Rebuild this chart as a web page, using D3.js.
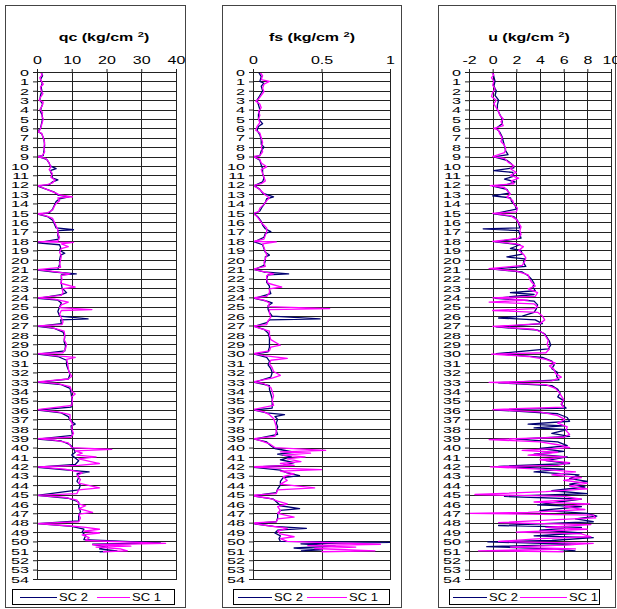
<!DOCTYPE html>
<html>
<head>
<meta charset="utf-8">
<script src="https://cdn.jsdelivr.net/npm/d3@7"></script>
<style>
  body { margin: 0; background: #fff; }
  svg { display: block; font-family: Arial, "Liberation Sans", sans-serif; }
</style>
</head>
<body>
<svg width="617" height="609"></svg>
<script>
// depth (m) on the vertical axis, shared by the three panels
const depthTicks = d3.range(0, 55);
const qcTicks = [0, 10, 20, 30, 40];
const fsTicks = [0, 0.5, 1];
const uTicks = [-2, 0, 2, 4, 6, 8, 10];
const seriesNames = ["SC 2", "SC 1"];

// [depth, value]
const qcSC2 = [[0,1.2],[0.4,1.6],[0.8,1.0],[1.2,1.5],[1.6,1.2],[2,1.4],[2.5,1.0],[3,0.8],[3.4,1.6],[3.8,1.2],[4.2,1.0],[4.6,1.5],[5,1.6],[5.5,1.3],[6.0,1.0],[6.3,0.2],[6.6,1.4],[7.2,2.0],[7.8,2.2],[8.4,2.0],[8.9,1.8],[9.0,0.2],[9.3,2.8],[9.7,3.5],[10.0,3.8],[10.3,5.5],[10.5,3.8],[10.9,4.2],[11.3,4.5],[11.5,6.0],[11.7,4.5],[12.0,3.5],[12.15,0.2],[12.4,2.0],[12.8,5.0],[13.1,6.0],[13.3,9.2],[13.5,6.5],[13.8,5.5],[14.2,5.0],[14.6,4.5],[15.0,3.5],[15.15,0.2],[15.4,3.0],[15.8,4.5],[16.2,5.0],[16.6,5.5],[16.8,10.5],[16.9,6.0],[17.4,6.0],[17.8,6.2],[18.2,0.1],[18.4,6.5],[18.7,6.8],[19.0,6.5],[19.3,8.0],[19.5,6.8],[20,6.5],[20.5,6.5],[21.0,6.0],[21.1,0.2],[21.3,5.0],[21.5,11.3],[21.6,7.0],[22,7.0],[22.5,7.0],[23,7.2],[23.5,8.5],[23.7,7.0],[24.1,0.2],[24.3,6.0],[24.6,7.0],[25,6.5],[25.5,6.0],[26,6.5],[26.3,14.7],[26.4,6.8],[26.8,7.0],[27.1,0.2],[27.3,5.0],[27.7,7.5],[28.2,8.0],[28.7,7.8],[29.2,8.2],[29.7,8.0],[30.05,0.2],[30.3,6.0],[30.7,8.5],[31.2,8.5],[31.7,9.0],[32.2,9.5],[32.7,9.0],[33.05,0.2],[33.3,7.0],[33.7,9.5],[34.2,9.8],[34.7,10.0],[35.2,10.0],[35.7,9.8],[36.0,0.2],[36.3,7.0],[36.7,9.0],[37.1,9.5],[37.5,11.0],[37.7,9.8],[38.2,10.0],[38.7,10.2],[39.1,0.2],[39.3,7.0],[39.7,9.5],[40.1,10.5],[40.5,11.0],[40.8,10.0],[41.1,11.0],[41.4,12.0],[41.8,11.0],[42.1,0.1],[42.4,9.0],[42.6,15.0],[42.8,11.5],[43.2,12.0],[43.6,11.5],[44,12.5],[44.5,12.0],[45.1,0.0],[45.4,9.0],[45.8,12.0],[46.3,12.0],[46.8,12.5],[47.3,12.0],[47.8,12.0],[48.1,0.1],[48.4,10.0],[48.7,13.5],[49.0,13.0],[49.4,14.0],[49.8,13.5],[50.15,35.5],[50.3,16.0],[50.6,20.0],[50.8,18.0],[51.0,23.0],[51.1,18.0]];
const qcSC1 = [[0,1.0],[0.3,1.5],[0.6,0.8],[1,1.3],[1.3,1.8],[1.6,1.0],[2,1.2],[2.3,1.7],[2.7,1.0],[3,0.6],[3.2,1.8],[3.6,1.5],[4,0.8],[4.3,1.6],[4.7,1.4],[5,1.8],[5.4,1.5],[5.8,1.2],[6.2,0.8],[6.35,0.1],[6.5,1.3],[7,1.8],[7.5,2.2],[8,2.0],[8.5,2.2],[8.9,1.5],[9.05,0.1],[9.2,2.5],[9.5,3.2],[9.8,3.6],[10.1,4.0],[10.4,3.5],[10.8,4.4],[11.2,4.0],[11.5,5.2],[11.8,4.5],[12.0,3.0],[12.1,0.1],[12.3,1.5],[12.6,3.5],[12.9,5.5],[13.1,6.5],[13.3,10.2],[13.4,6.0],[13.7,6.5],[14.0,5.5],[14.3,5.0],[14.7,4.5],[15.0,3.0],[15.1,0.1],[15.3,2.5],[15.6,4.5],[16,5.0],[16.4,5.5],[16.8,6.0],[17.2,6.0],[17.6,6.5],[18.0,6.0],[18.1,0.1],[18.15,10.5],[18.3,7.0],[18.6,9.0],[18.8,7.0],[19.2,6.5],[19.6,7.0],[20,6.8],[20.4,6.5],[20.8,6.8],[21.05,0.1],[21.2,4.0],[21.5,9.5],[21.7,7.0],[22.1,7.2],[22.5,6.8],[22.9,11.0],[23.1,7.2],[23.5,7.5],[23.8,7.0],[24.05,0.1],[24.2,5.0],[24.5,9.0],[24.8,7.0],[25.1,6.5],[25.3,15.8],[25.4,7.0],[25.8,6.5],[26.2,7.0],[26.6,7.5],[26.9,7.2],[27.05,0.1],[27.2,4.0],[27.6,7.8],[28,8.0],[28.5,7.8],[29,8.5],[29.5,8.2],[29.9,7.5],[30.0,0.1],[30.2,5.0],[30.4,11.0],[30.6,8.5],[31,8.8],[31.5,9.0],[32,9.2],[32.4,10.0],[32.7,9.0],[33.0,0.1],[33.2,6.0],[33.5,9.5],[34,10.0],[34.3,11.0],[34.6,10.0],[35,10.2],[35.5,10.0],[35.95,0.1],[36.2,6.0],[36.5,9.5],[37,9.5],[37.5,10.2],[38,10.0],[38.5,10.5],[38.9,9.8],[39.05,0.1],[39.2,5.0],[39.5,9.0],[40,10.0],[40.2,21.5],[40.35,11.0],[40.6,13.0],[40.8,11.5],[41.0,17.0],[41.2,12.0],[41.5,15.5],[41.7,18.0],[41.9,12.0],[42.05,0.1],[42.3,8.0],[42.5,11.0],[42.7,13.0],[43,11.5],[43.4,12.5],[43.8,12.0],[44.3,18.0],[44.5,12.0],[44.9,11.5],[45.1,0.0],[45.3,8.0],[45.6,11.5],[46,12.0],[46.2,14.0],[46.5,12.0],[46.9,16.0],[47.1,12.0],[47.5,12.5],[47.9,12.0],[48.1,0.1],[48.3,8.0],[48.5,14.0],[48.7,18.0],[48.9,13.5],[49.1,18.0],[49.3,13.0],[49.6,15.0],[49.9,14.0],[50.2,37.0],[50.35,16.0],[50.5,27.0],[50.6,17.0],[50.8,24.0],[51.0,26.0],[51.1,19.0]];

const fsSC2 = [[0,0.04],[0.5,0.06],[1.0,0.05],[1.2,0.08],[1.5,0.06],[2,0.07],[2.5,0.05],[3.0,0.03],[3.5,0.04],[4,0.05],[4.5,0.04],[5,0.04],[5.5,0.07],[5.8,0.04],[6.2,0.03],[6.7,0.05],[7.2,0.06],[7.7,0.06],[8.0,0.08],[8.4,0.06],[8.9,0.05],[9.05,0.01],[9.4,0.05],[9.9,0.06],[10.3,0.07],[10.8,0.07],[11.3,0.08],[11.7,0.07],[12.1,0.01],[12.5,0.05],[12.9,0.07],[13.3,0.15],[13.5,0.1],[13.9,0.09],[14.3,0.07],[14.8,0.05],[15.1,0.01],[15.5,0.04],[15.9,0.06],[16.3,0.07],[16.7,0.09],[17.0,0.13],[17.2,0.09],[17.6,0.08],[18.1,0.01],[18.4,0.07],[18.8,0.08],[19.2,0.09],[19.5,0.12],[19.7,0.09],[20.1,0.09],[20.6,0.08],[21.05,0.01],[21.3,0.08],[21.5,0.26],[21.6,0.11],[22,0.1],[22.4,0.1],[22.8,0.12],[23.2,0.12],[23.6,0.13],[24.1,0.01],[24.4,0.1],[24.6,0.14],[24.9,0.11],[25.3,0.11],[25.6,0.12],[26,0.14],[26.3,0.49],[26.4,0.12],[26.7,0.1],[27.1,0.01],[27.4,0.08],[27.8,0.11],[28.3,0.12],[28.8,0.12],[29.3,0.12],[29.8,0.11],[30.05,0.01],[30.4,0.1],[30.8,0.12],[31.2,0.11],[31.6,0.13],[32,0.14],[32.5,0.13],[33.05,0.01],[33.4,0.12],[33.8,0.12],[34.3,0.13],[34.8,0.14],[35.3,0.14],[35.8,0.14],[36.0,0.01],[36.3,0.1],[36.5,0.23],[36.7,0.16],[37.0,0.18],[37.4,0.17],[37.8,0.18],[38.2,0.17],[38.6,0.18],[39.1,0.01],[39.4,0.1],[39.8,0.13],[40.1,0.16],[40.5,0.3],[40.7,0.18],[41.0,0.28],[41.3,0.2],[41.6,0.3],[41.9,0.22],[42.1,0.0],[42.4,0.2],[42.7,0.25],[43.0,0.34],[43.2,0.22],[43.6,0.2],[44.0,0.2],[44.4,0.18],[44.8,0.17],[45.15,0.0],[45.5,0.15],[45.9,0.18],[46.2,0.2],[46.5,0.34],[46.7,0.2],[47.1,0.18],[47.5,0.18],[47.9,0.17],[48.1,0.0],[48.4,0.15],[48.6,0.39],[48.8,0.18],[49.1,0.16],[49.4,0.2],[49.7,0.19],[50.0,0.2],[50.1,1.0],[50.25,0.35],[50.5,0.6],[50.7,0.3],[50.9,0.5],[51.0,0.35]];
const fsSC1 = [[0,0.05],[0.4,0.07],[0.8,0.06],[1.0,0.12],[1.3,0.08],[1.7,0.07],[2.1,0.08],[2.5,0.06],[2.9,0.04],[3.1,0.02],[3.4,0.05],[3.8,0.06],[4.2,0.04],[4.6,0.05],[5.0,0.04],[5.4,0.05],[5.8,0.03],[6.2,0.02],[6.5,0.05],[7,0.06],[7.5,0.07],[8,0.06],[8.5,0.07],[8.9,0.05],[9.0,0.0],[9.3,0.05],[9.7,0.06],[10.1,0.1],[10.4,0.06],[10.8,0.07],[11.2,0.08],[11.6,0.09],[11.9,0.06],[12.1,0.0],[12.4,0.04],[12.8,0.07],[13.1,0.09],[13.4,0.12],[13.7,0.1],[14.1,0.08],[14.5,0.05],[14.9,0.04],[15.05,0.0],[15.4,0.03],[15.8,0.05],[16.2,0.07],[16.6,0.1],[17,0.1],[17.4,0.09],[17.8,0.08],[18.05,0.0],[18.1,0.17],[18.3,0.07],[18.7,0.08],[19.1,0.09],[19.5,0.1],[19.9,0.09],[20.3,0.08],[20.7,0.09],[21.0,0.0],[21.2,0.06],[21.5,0.15],[21.7,0.1],[22.1,0.1],[22.5,0.11],[22.9,0.21],[23.1,0.12],[23.5,0.12],[23.9,0.1],[24.05,0.0],[24.3,0.08],[24.6,0.12],[25,0.11],[25.2,0.56],[25.3,0.12],[25.7,0.12],[26.1,0.13],[26.5,0.11],[26.9,0.1],[27.05,0.0],[27.3,0.05],[27.6,0.12],[28,0.12],[28.5,0.13],[29.1,0.2],[29.3,0.13],[29.7,0.12],[30.0,0.0],[30.2,0.08],[30.5,0.25],[30.7,0.13],[31.1,0.12],[31.5,0.14],[31.9,0.15],[32.3,0.2],[32.6,0.14],[33.0,0.0],[33.2,0.08],[33.6,0.13],[34,0.14],[34.5,0.15],[35,0.14],[35.5,0.15],[35.95,0.0],[36.2,0.08],[36.5,0.12],[36.9,0.15],[37.3,0.16],[37.8,0.17],[38.3,0.17],[38.8,0.16],[39.05,0.0],[39.3,0.06],[39.6,0.12],[40,0.16],[40.3,0.53],[40.45,0.2],[40.6,0.42],[40.8,0.22],[41.0,0.38],[41.2,0.25],[41.5,0.35],[41.7,0.2],[41.9,0.3],[42.05,-0.02],[42.2,0.18],[42.35,0.5],[42.5,0.2],[42.8,0.3],[43.1,0.22],[43.5,0.25],[43.9,0.2],[44.3,0.45],[44.5,0.18],[44.9,0.17],[45.1,-0.02],[45.4,0.12],[45.7,0.18],[46,0.25],[46.3,0.18],[46.7,0.2],[47.0,0.18],[47.4,0.3],[47.6,0.18],[47.9,0.17],[48.05,-0.02],[48.3,0.1],[48.6,0.25],[48.9,0.18],[49.2,0.2],[49.5,0.3],[49.7,0.2],[50.0,0.25],[50.3,0.93],[50.45,0.4],[50.6,0.75],[50.75,0.45],[51.0,0.89],[51.1,0.5]];

const uSC2 = [[0,0.0],[0.5,0.1],[1,0.2],[1.5,0.1],[2,0.3],[2.5,0.2],[3,0.5],[3.5,0.4],[4,0.4],[4.5,0.6],[5,0.8],[5.5,0.8],[6.0,0.3],[6.4,0.6],[6.9,0.8],[7.4,0.9],[7.9,1.0],[8.4,1.1],[8.8,1.3],[9.05,0.1],[9.4,1.2],[9.8,1.6],[10.2,1.8],[10.5,0.1],[10.7,1.7],[11.1,1.8],[11.4,1.0],[11.7,1.9],[12.0,1.2],[12.15,0.0],[12.5,1.2],[12.9,1.4],[13.2,0.0],[13.4,1.5],[13.8,1.6],[14.2,1.9],[14.6,2.0],[15.1,0.1],[15.4,1.8],[15.8,2.1],[16.2,2.2],[16.6,2.3],[16.7,-0.8],[16.9,2.2],[17.3,2.3],[17.7,2.4],[18.1,0.2],[18.4,2.3],[18.8,1.5],[19.0,2.4],[19.4,2.5],[19.7,1.2],[19.9,2.7],[20.3,2.6],[20.7,2.8],[21.0,0.0],[21.3,2.5],[21.7,3.0],[22.1,3.3],[22.5,3.5],[22.9,3.4],[23.3,3.6],[23.5,1.5],[23.7,3.5],[24.1,0.2],[24.4,3.5],[24.8,3.8],[25.2,3.7],[25.6,3.5],[26.0,2.5],[26.2,0.5],[26.4,3.6],[26.8,4.2],[27.15,0.3],[27.5,3.8],[27.9,4.4],[28.3,4.6],[28.7,4.8],[29.1,4.9],[29.5,4.7],[30.0,0.3],[30.4,4.2],[30.8,5.0],[31.2,5.2],[31.6,5.0],[32.0,5.5],[32.4,5.4],[32.8,5.6],[33.1,0.5],[33.4,5.0],[33.8,5.5],[34.2,5.7],[34.6,5.5],[35.0,6.0],[35.4,5.8],[35.8,6.2],[36.0,0.3],[36.4,5.5],[36.8,6.3],[37.2,6.5],[37.5,3.0],[37.7,6.0],[37.9,3.5],[38.1,6.3],[38.5,5.0],[38.8,6.5],[39.1,2.0],[39.4,5.5],[39.8,6.3],[40.1,4.0],[40.4,6.0],[40.7,3.5],[41.0,6.3],[41.4,4.5],[41.7,6.5],[42.0,0.5],[42.3,6.0],[42.6,3.5],[42.9,7.3],[43.3,6.5],[43.6,8.0],[43.9,6.5],[44.2,7.8],[44.6,5.0],[44.9,8.0],[45.2,1.0],[45.5,7.5],[45.8,5.5],[46.1,3.8],[46.3,7.5],[46.7,4.0],[47.0,8.0],[47.3,8.8],[47.6,7.0],[47.9,8.5],[48.3,0.5],[48.5,7.5],[48.8,4.0],[49.1,7.5],[49.4,3.5],[49.6,8.5],[49.9,5.0],[50.05,-0.4],[50.3,7.0],[50.55,-0.5],[50.8,5.0],[51.0,7.0]];
const uSC1 = [[0,-0.1],[0.3,0.1],[0.6,-0.1],[1,0.1],[1.4,0.0],[1.8,0.2],[2.2,0.0],[2.6,-0.1],[3,0.3],[3.4,0.1],[3.8,0.3],[4.2,0.5],[4.6,0.6],[5,0.9],[5.3,0.7],[5.7,0.9],[6.0,0.1],[6.2,0.5],[6.6,0.6],[7,0.8],[7.4,0.7],[7.8,1.0],[8.2,1.1],[8.6,1.0],[9.0,0.0],[9.2,1.0],[9.6,1.3],[10,1.8],[10.3,1.5],[10.7,2.0],[11,1.5],[11.3,2.2],[11.6,1.6],[11.9,1.8],[12.1,-0.2],[12.3,1.0],[12.6,1.2],[13,1.5],[13.3,1.2],[13.7,1.7],[14.1,1.8],[14.5,2.1],[14.9,2.0],[15.05,0.0],[15.3,1.5],[15.7,2.0],[16.1,2.2],[16.5,2.4],[16.9,2.3],[17.3,2.4],[17.7,2.2],[18.05,0.0],[18.3,2.0],[18.6,2.6],[19,2.2],[19.4,2.6],[19.8,2.8],[20.2,2.7],[20.6,2.5],[20.95,-0.3],[21.2,2.0],[21.6,3.0],[22,3.1],[22.4,3.3],[22.8,3.6],[23.1,3.0],[23.5,3.8],[23.9,3.6],[24.05,0.0],[24.3,3.0],[24.5,-0.3],[24.7,3.5],[25,3.8],[25.2,3.5],[25.4,0.0],[25.6,3.8],[26,4.2],[26.4,4.4],[26.8,4.0],[27.1,0.0],[27.4,3.5],[27.8,4.3],[28.2,4.5],[28.6,4.7],[29,4.6],[29.5,4.8],[29.9,4.5],[30.05,-0.1],[30.3,3.0],[30.6,4.5],[31,5.3],[31.3,4.8],[31.7,5.2],[32.1,5.3],[32.5,5.8],[32.9,5.0],[33.05,-0.3],[33.3,4.5],[33.7,5.3],[34.1,5.6],[34.5,5.8],[34.9,6.0],[35.3,5.8],[35.7,6.0],[35.95,0.0],[36.2,4.0],[36.6,5.5],[37,6.1],[37.4,5.5],[37.8,6.3],[38.2,6.2],[38.6,6.5],[38.9,6.0],[39.15,-0.3],[39.4,4.0],[39.7,5.5],[40,6.5],[40.3,2.5],[40.5,5.5],[40.8,3.0],[41.0,6.2],[41.3,4.0],[41.6,6.5],[41.9,5.5],[42.05,-0.2],[42.3,4.0],[42.6,7.0],[42.9,5.0],[43.2,7.5],[43.5,6.0],[43.8,8.0],[44.1,6.5],[44.4,8.0],[44.7,4.5],[45.0,-1.5],[45.2,6.0],[45.5,7.5],[45.8,3.5],[46.0,8.2],[46.3,6.0],[46.6,7.8],[46.9,3.0],[47.0,-2.0],[47.2,8.5],[47.5,8.7],[47.7,5.0],[48.0,0.5],[48.2,8.3],[48.5,4.5],[48.7,8.0],[49.0,2.0],[49.2,7.5],[49.5,8.3],[49.7,4.0],[50.0,0.5],[50.2,8.5],[50.4,6.0],[50.6,1.5],[50.8,7.0],[51.0,-1.2],[51.1,6.0]];

const colors = { "SC 2": "#000070", "SC 1": "#ff00ff" };
const SX = 1.6; // the picture's text is stretched sideways

const panels = [
  { title: "qc", box: [5, 185], plot: [37, 176], ticks: qcTicks, domain: [0, 40], titleX: 104,
    series: { "SC 2": qcSC2, "SC 1": qcSC1 }, legend: [12, 174, 20, 57, 97, 130] },
  { title: "fs", box: [222, 401], plot: [253, 390], ticks: fsTicks, domain: [0, 1], titleX: 312,
    series: { "SC 2": fsSC2, "SC 1": fsSC1 }, legend: [233, 389, 238, 272, 307, 347] },
  { title: "u", box: [438, 615], plot: [469, 611], ticks: uTicks, domain: [-2, 10], titleX: 529,
    series: { "SC 2": uSC2, "SC 1": uSC1 }, legend: [449, 599, 453, 487, 520, 567] }
];

const svg = d3.select("svg");
const y = d3.scaleLinear().domain([0, 54]).range([72, 579]);

panels.forEach((p, i) => {
  const x = d3.scaleLinear().domain(p.domain).range(p.plot);
  const g = svg.append("g");

  g.append("rect")
    .attr("x", p.box[0] + 0.5).attr("y", 5.5)
    .attr("width", p.box[1] - p.box[0]).attr("height", 602)
    .attr("fill", "#fff").attr("stroke", "#444");

  // title with superscript
  const t = g.append("text")
    .attr("transform", `translate(${p.titleX},41) scale(${SX},1)`)
    .attr("text-anchor", "middle")
    .attr("font-size", 10).attr("font-weight", "bold");
  t.append("tspan").text(p.title + " (kg/cm ");
  t.append("tspan").attr("font-size", 7).attr("dy", -4).text("2");
  t.append("tspan").attr("dy", 4).text(")");

  // grid
  g.append("g").selectAll("line").data(depthTicks).join("line")
    .attr("x1", p.plot[0]).attr("x2", p.plot[1])
    .attr("y1", d => Math.round(y(d)) + 0.5).attr("y2", d => Math.round(y(d)) + 0.5)
    .attr("stroke", "#222");
  g.append("g").selectAll("line").data(p.ticks).join("line")
    .attr("x1", d => Math.round(x(d)) + 0.5).attr("x2", d => Math.round(x(d)) + 0.5)
    .attr("y1", y(0)).attr("y2", y(54))
    .attr("stroke", "#222");

  // clipped lines
  const clipId = "clip" + i;
  svg.append("clipPath").attr("id", clipId).append("rect")
    .attr("x", p.plot[0]).attr("y", y(0))
    .attr("width", p.plot[1] - p.plot[0]).attr("height", y(54) - y(0));
  const line = d3.line().x(d => x(d[1])).y(d => y(d[0]));
  const lines = g.append("g").attr("clip-path", `url(#${clipId})`);
  seriesNames.forEach(name => {
    lines.append("path")
      .datum(p.series[name])
      .attr("d", line)
      .attr("fill", "none")
      .attr("stroke", colors[name])
      .attr("stroke-width", 1.3)
      .attr("stroke-linejoin", "round");
  });

  // axes
  const ax = g.append("g").attr("transform", `translate(0,${y(0)})`)
    .call(d3.axisTop(x).tickValues(p.ticks).tickFormat(d => String(d))
      .tickSize(3).tickPadding(5).tickSizeOuter(0));
  const ay = g.append("g").attr("transform", `translate(${p.plot[0]},0)`)
    .call(d3.axisLeft(y).tickValues(depthTicks).tickFormat(d => String(d))
      .tickSize(4).tickSizeOuter(0));
  [ax, ay].forEach(a => {
    a.select(".domain").remove();
    a.selectAll("line").attr("stroke", "#222");
    a.selectAll("text").attr("font-family", null).attr("fill", "#000");
  });
  ax.selectAll("text").attr("font-size", 10).attr("transform", `scale(${SX},1)`);
  ay.selectAll("text").attr("font-size", 9.5)
    .attr("x", -8 / 1.7).attr("dy", "0.36em").attr("transform", "scale(1.7,0.95)");

  // plot frame
  g.append("rect")
    .attr("x", p.plot[0] + 0.5).attr("y", Math.round(y(0)) + 0.5)
    .attr("width", p.plot[1] - p.plot[0]).attr("height", Math.round(y(54)) - Math.round(y(0)))
    .attr("fill", "none").attr("stroke", "#222");

  // legend
  const [lx0, lx1, a0, a1, b0, b1] = p.legend;
  const lg = g.append("g");
  lg.append("rect").attr("x", lx0 + 0.5).attr("y", 589.5)
    .attr("width", lx1 - lx0).attr("height", 15)
    .attr("fill", "#fff").attr("stroke", "#000");
  [[a0, a1], [b0, b1]].forEach(([s, e], k) => {
    const name = seriesNames[k];
    lg.append("line").attr("x1", s).attr("x2", e).attr("y1", 597.5).attr("y2", 597.5)
      .attr("stroke", colors[name]).attr("stroke-width", 1);
    lg.append("text")
      .attr("transform", `translate(${e + 2},601) scale(1.3,1)`)
      .attr("font-size", 10).text(name);
  });
});
</script>
</body>
</html>
